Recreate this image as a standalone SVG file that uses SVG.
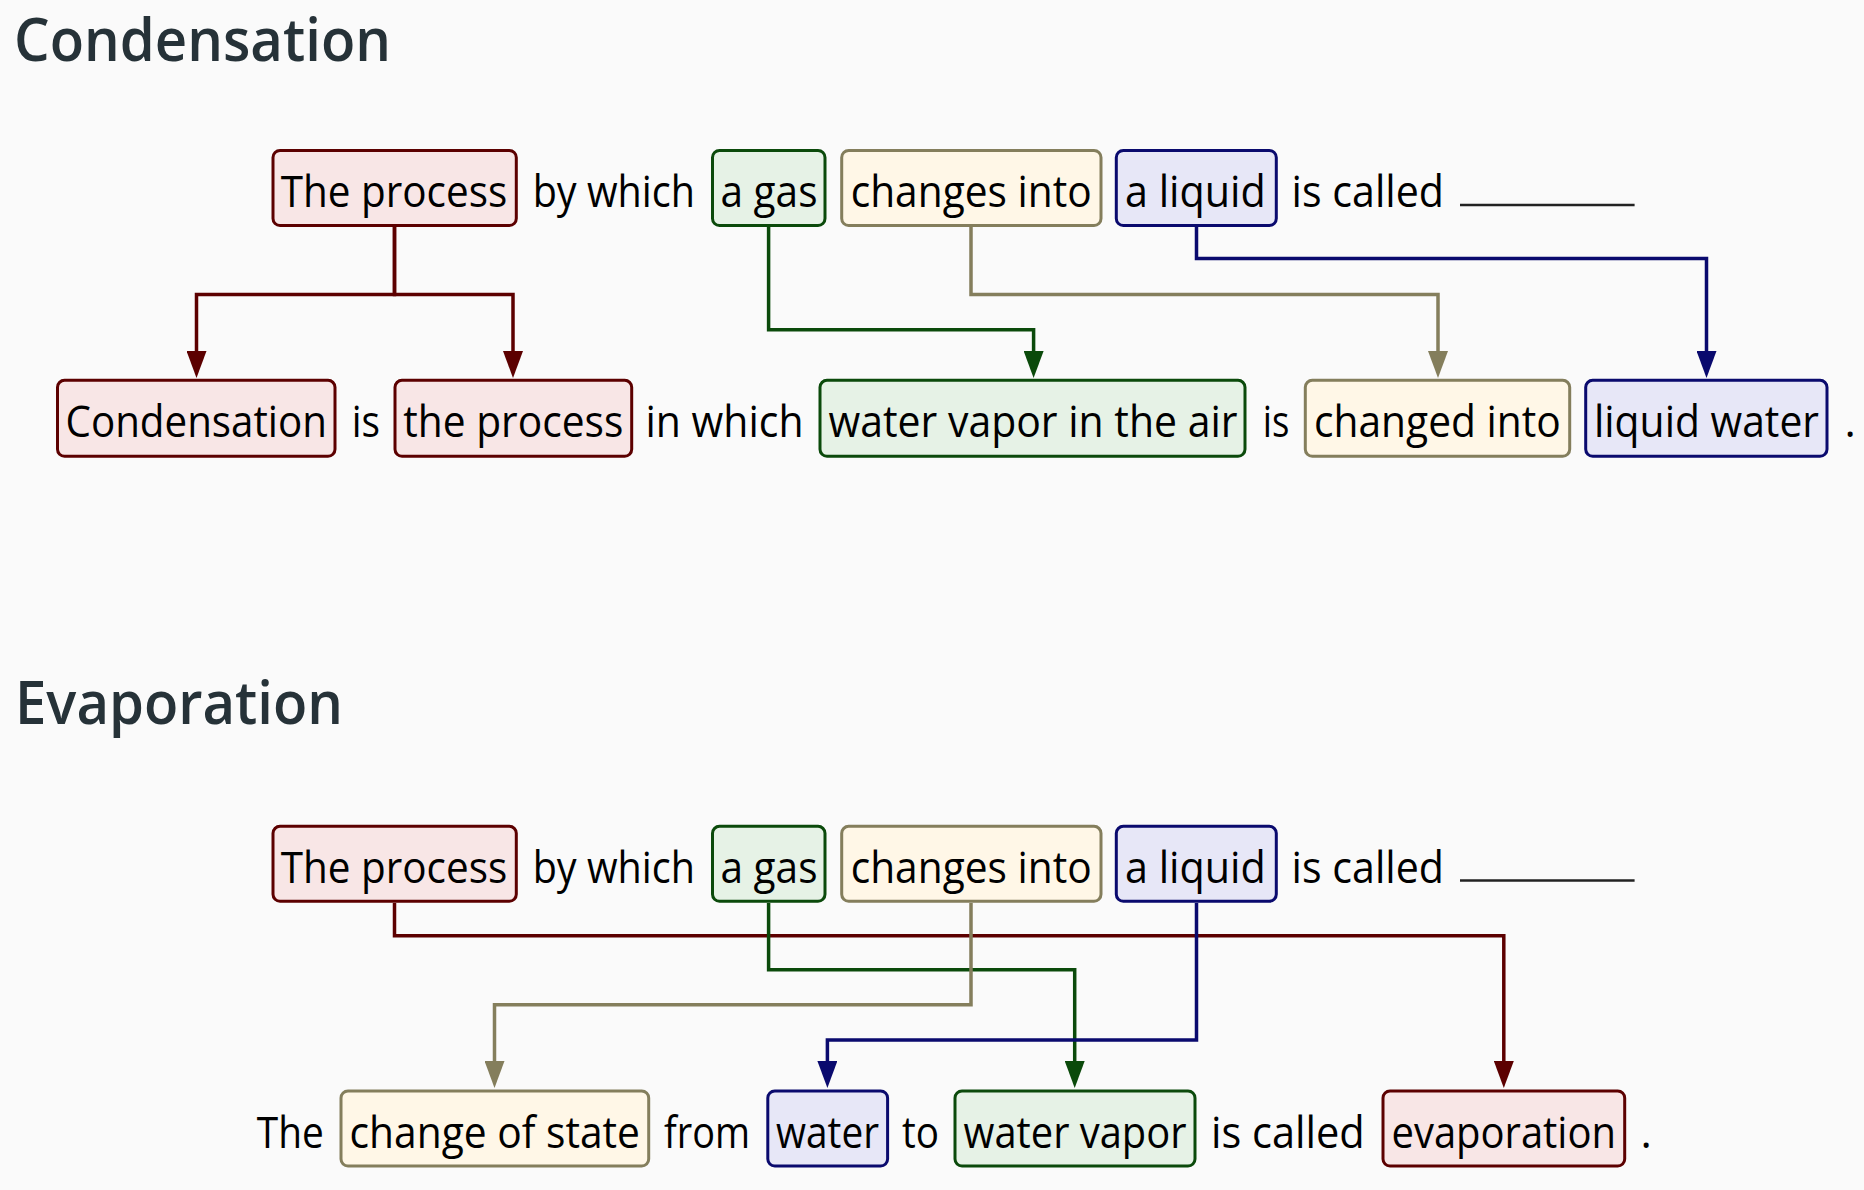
<svg xmlns="http://www.w3.org/2000/svg" width="1864" height="1190" viewBox="0 0 1864 1190">
<style>
text{font-family:"Open Sans","Noto Sans","Liberation Sans",sans-serif;font-size:43px;fill:#000;}
.title{font-size:60px;fill:#263238;font-weight:600;}
.box{stroke-width:3;}
.red{fill:#f8e6e6;stroke:#5c0000;}
.green{fill:#e6f2e6;stroke:#0b4a0b;}
.yellow{fill:#fff7e7;stroke:#847e5c;}
.blue{fill:#e7e7f7;stroke:#0a0a6e;}
.c{fill:none;stroke-width:3.5;}
.cr{stroke:#5c0000;}
.cg{stroke:#0b4a0b;}
.cy{stroke:#847e5c;}
.cb{stroke:#0a0a6e;}
</style>
<defs>
<marker id="ar" markerUnits="userSpaceOnUse" markerWidth="27" markerHeight="20" refX="0" refY="10" orient="auto"><path d="M0,0 L27,10 L0,20 z" fill="#5c0000"/></marker>
<marker id="ag" markerUnits="userSpaceOnUse" markerWidth="27" markerHeight="20" refX="0" refY="10" orient="auto"><path d="M0,0 L27,10 L0,20 z" fill="#0b4a0b"/></marker>
<marker id="ay" markerUnits="userSpaceOnUse" markerWidth="27" markerHeight="20" refX="0" refY="10" orient="auto"><path d="M0,0 L27,10 L0,20 z" fill="#847e5c"/></marker>
<marker id="ab" markerUnits="userSpaceOnUse" markerWidth="27" markerHeight="20" refX="0" refY="10" orient="auto"><path d="M0,0 L27,10 L0,20 z" fill="#0a0a6e"/></marker>
</defs>
<rect x="0" y="0" width="1864" height="1190" fill="#fafafa"/>

<text class="title" x="14" y="61" textLength="377" lengthAdjust="spacingAndGlyphs">Condensation</text>
<text class="title" x="15" y="723.5" textLength="328" lengthAdjust="spacingAndGlyphs">Evaporation</text>

<g id="connectors">
<path class="c cr" d="M394.5 227 V294.5 H196.5 V351" marker-end="url(#ar)"/>
<path class="c cr" d="M394.5 227 V294.5 H513 V351" marker-end="url(#ar)"/>
<path class="c cg" d="M768.6 227 V329.8 H1033.6 V351" marker-end="url(#ag)"/>
<path class="c cy" d="M971 227 V294.5 H1438 V351" marker-end="url(#ay)"/>
<path class="c cb" d="M1196.5 227 V258.5 H1706.5 V351" marker-end="url(#ab)"/>

<path class="c cr" d="M394.5 903 V935.7 H1503.8 V1061" marker-end="url(#ar)"/>
<path class="c cg" d="M768.6 903 V969.8 H1074.7 V1061" marker-end="url(#ag)"/>
<path class="c cy" d="M971 903 V1004.8 H494.5 V1061" marker-end="url(#ay)"/>
<path class="c cb" d="M1196.5 903 V1040 H827.4 V1061" marker-end="url(#ab)"/>
</g>

<!-- Section 1 top row -->
<g id="c-the-process"><rect class="box red" x="273" y="150.5" width="243.3" height="75" rx="7"/><text x="280.7" y="206.7" textLength="226.6" lengthAdjust="spacingAndGlyphs">The process</text></g>
<g id="c-a-gas"><rect class="box green" x="712.5" y="150.5" width="112.5" height="75" rx="7"/><text x="720.5" y="206.7" textLength="97" lengthAdjust="spacingAndGlyphs">a gas</text></g>
<g id="c-changes-into"><rect class="box yellow" x="841.7" y="150.5" width="259.3" height="75" rx="7"/><text x="850.7" y="206.7" textLength="241" lengthAdjust="spacingAndGlyphs">changes into</text></g>
<g id="c-a-liquid"><rect class="box blue" x="1116.3" y="150.5" width="160" height="75" rx="7"/><text x="1125" y="206.7" textLength="140.7" lengthAdjust="spacingAndGlyphs">a liquid</text></g>
<g id="c-words-top">
<text x="532.7" y="206.7" textLength="162.3" lengthAdjust="spacingAndGlyphs">by which</text>
<text x="1291.6" y="206.7" textLength="152.4" lengthAdjust="spacingAndGlyphs">is called</text>
<line x1="1460" y1="205" x2="1634.6" y2="205" stroke="#222" stroke-width="2.5"/>
</g>

<!-- Section 1 bottom row -->
<g id="c-condensation"><rect class="box red" x="57.5" y="380.3" width="277.5" height="76" rx="7"/><text x="65.5" y="437.3" textLength="261.5" lengthAdjust="spacingAndGlyphs">Condensation</text></g>
<g id="c-the-process-2"><rect class="box red" x="395" y="380.3" width="236.7" height="76" rx="7"/><text x="403.3" y="437.3" textLength="220" lengthAdjust="spacingAndGlyphs">the process</text></g>
<g id="c-water-vapor-air"><rect class="box green" x="820" y="380.3" width="425" height="76" rx="7"/><text x="828.5" y="437.3" textLength="409" lengthAdjust="spacingAndGlyphs">water vapor in the air</text></g>
<g id="c-changed-into"><rect class="box yellow" x="1305.3" y="380.3" width="264.4" height="76" rx="7"/><text x="1314" y="437.3" textLength="246.7" lengthAdjust="spacingAndGlyphs">changed into</text></g>
<g id="c-liquid-water"><rect class="box blue" x="1585.7" y="380.3" width="241.3" height="76" rx="7"/><text x="1594" y="437.3" textLength="225" lengthAdjust="spacingAndGlyphs">liquid water</text></g>
<g id="c-words-bottom">
<text x="351.7" y="437.3" textLength="28.3" lengthAdjust="spacingAndGlyphs">is</text>
<text x="645.5" y="437.3" textLength="158" lengthAdjust="spacingAndGlyphs">in which</text>
<text x="1262.7" y="437.3" textLength="26.6" lengthAdjust="spacingAndGlyphs">is</text>
<text x="1844.5" y="437.3">.</text>
</g>

<!-- Section 2 top row -->
<g id="e-the-process"><rect class="box red" x="273" y="826.3" width="243.3" height="75" rx="7"/><text x="280.7" y="882.5" textLength="226.6" lengthAdjust="spacingAndGlyphs">The process</text></g>
<g id="e-a-gas"><rect class="box green" x="712.5" y="826.3" width="112.5" height="75" rx="7"/><text x="720.5" y="882.5" textLength="97" lengthAdjust="spacingAndGlyphs">a gas</text></g>
<g id="e-changes-into"><rect class="box yellow" x="841.7" y="826.3" width="259.3" height="75" rx="7"/><text x="850.7" y="882.5" textLength="241" lengthAdjust="spacingAndGlyphs">changes into</text></g>
<g id="e-a-liquid"><rect class="box blue" x="1116.3" y="826.3" width="160" height="75" rx="7"/><text x="1125" y="882.5" textLength="140.7" lengthAdjust="spacingAndGlyphs">a liquid</text></g>
<g id="e-words-top">
<text x="532.7" y="882.5" textLength="162.3" lengthAdjust="spacingAndGlyphs">by which</text>
<text x="1291.6" y="882.5" textLength="152.4" lengthAdjust="spacingAndGlyphs">is called</text>
<line x1="1460" y1="880.6" x2="1634.6" y2="880.6" stroke="#222" stroke-width="2.5"/>
</g>

<!-- Section 2 bottom row -->
<g id="e-change-of-state"><rect class="box yellow" x="341" y="1091" width="307.7" height="75" rx="7"/><text x="349.5" y="1148" textLength="290.5" lengthAdjust="spacingAndGlyphs">change of state</text></g>
<g id="e-water"><rect class="box blue" x="767.8" y="1091" width="119.8" height="75" rx="7"/><text x="776" y="1148" textLength="103" lengthAdjust="spacingAndGlyphs">water</text></g>
<g id="e-water-vapor"><rect class="box green" x="955" y="1091" width="240" height="75" rx="7"/><text x="963.5" y="1148" textLength="223" lengthAdjust="spacingAndGlyphs">water vapor</text></g>
<g id="e-evaporation"><rect class="box red" x="1383" y="1091" width="241.7" height="75" rx="7"/><text x="1391.5" y="1148" textLength="224.5" lengthAdjust="spacingAndGlyphs">evaporation</text></g>
<g id="e-words-bottom">
<text x="256.8" y="1148" textLength="67" lengthAdjust="spacingAndGlyphs">The</text>
<text x="664" y="1148" textLength="86" lengthAdjust="spacingAndGlyphs">from</text>
<text x="902" y="1148" textLength="37" lengthAdjust="spacingAndGlyphs">to</text>
<text x="1211" y="1148" textLength="153.7" lengthAdjust="spacingAndGlyphs">is called</text>
<text x="1640.5" y="1148">.</text>
</g>
</svg>
